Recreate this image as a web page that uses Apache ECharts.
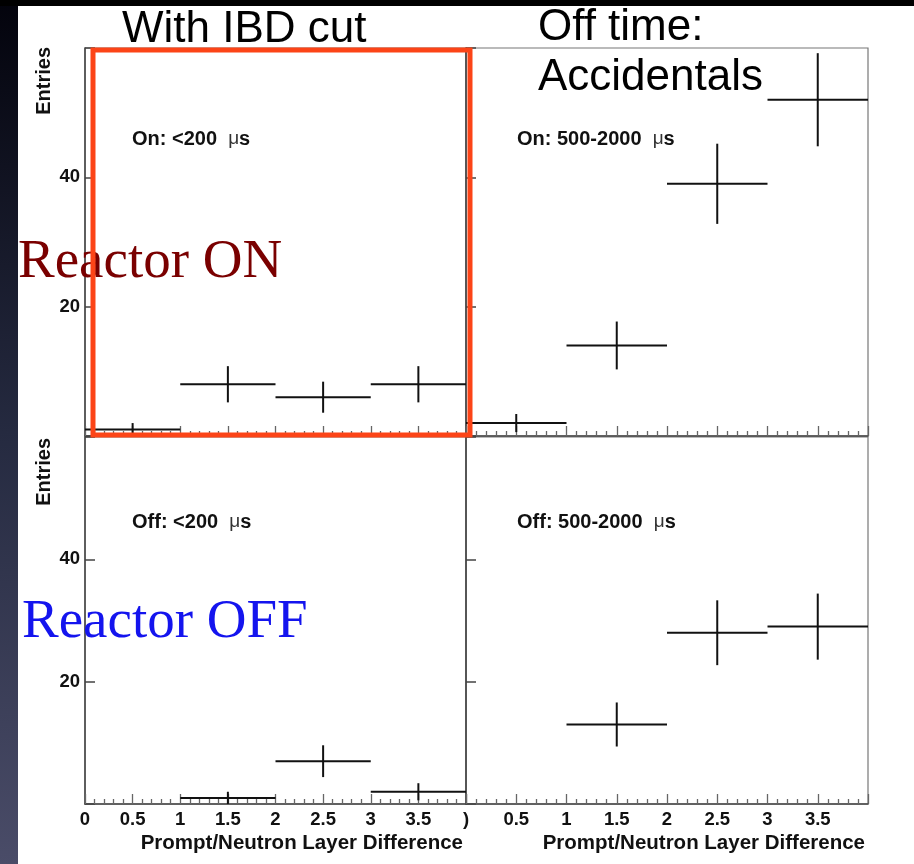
<!DOCTYPE html>
<html>
<head>
<meta charset="utf-8">
<script src="https://cdn.jsdelivr.net/npm/echarts@6/dist/echarts.min.js"></script>
<style>
  html, body { margin: 0; padding: 0; background: #fff; }
  #chart { width: 914px; height: 864px; }
</style>
</head>
<body>
<div id="chart"></div>
<script>
// ---- data ----
const binCenters = [0.5, 1.5, 2.5, 3.5];
const binWidth = 1;

const onPromptCounts   = [1, 8, 6, 8];
const onPromptErrors   = [1, 2.8, 2.4, 2.8];
const onDelayedCounts  = [2, 14, 39, 52];
const onDelayedErrors  = [1.4, 3.7, 6.2, 7.2];
const offPromptCounts  = [0, 1, 7, 2];
const offPromptErrors  = [0, 1, 2.6, 1.4];
const offDelayedCounts = [0, 13, 28, 29];
const offDelayedErrors = [0, 3.6, 5.3, 5.4];

const xTickLabelsLeft  = ['0', '0.5', '1', '1.5', '2', '2.5', '3', '3.5', ')'];
const xTickLabelsRight = ['', '0.5', '1', '1.5', '2', '2.5', '3', '3.5', ''];
const yTickLabels      = ['', '20', '40', ''];

const panelLabels = ['On: <200  ', 'On: 500-2000  ', 'Off: <200  ', 'Off: 500-2000  '];
const xAxisTitle = 'Prompt/Neutron Layer Difference';
const yAxisTitle = 'Entries';

// ---- chart ----
const FONT = 'Liberation Sans, Arial, Helvetica, sans-serif';
const chart = echarts.init(document.getElementById('chart'), null, { renderer: 'canvas' });

const grids = [
  { left: 85,  top: 48,  width: 381, height: 388 },
  { left: 466, top: 48,  width: 402, height: 388 },
  { left: 85,  top: 437, width: 381, height: 367 },
  { left: 466, top: 437, width: 402, height: 367 }
].map(g => Object.assign({ show: true, borderColor: '#777', borderWidth: 1.2, backgroundColor: 'transparent' }, g));

function makeXAxis(i, labels) {
  return {
    type: 'value', gridIndex: i, min: 0, max: 4, interval: 0.5,
    axisLine: { show: true, onZero: false, lineStyle: { color: '#444', width: 1.5 } },
    axisTick: { show: true, inside: true, length: 10, lineStyle: { color: '#666', width: 1.3 } },
    minorTick: { show: true, splitNumber: 5, length: 5, lineStyle: { color: '#666', width: 1.3 } },
    splitLine: { show: false },
    axisLabel: labels ? {
      show: true, margin: 6, fontSize: 18.5, fontWeight: 'bold', fontFamily: FONT, color: '#111',
      showMinLabel: true, showMaxLabel: true,
      formatter: v => labels[Math.round(v / 0.5)] || ''
    } : { show: false }
  };
}
function makeYAxis(i, showLabels) {
  return {
    type: 'value', gridIndex: i, min: 0, max: 60, interval: 20,
    axisLine: { show: true, onZero: false, lineStyle: { color: '#444', width: 1.5 } },
    axisTick: { show: true, inside: true, length: 10, lineStyle: { color: '#444', width: 1.5 } },
    splitLine: { show: false },
    axisLabel: showLabels ? {
      show: true, margin: 5, fontSize: 18.5, fontWeight: 'bold', fontFamily: FONT, color: '#111',
      formatter: v => yTickLabels[Math.round(v / 20)] || ''
    } : { show: false }
  };
}

function errorSeries(i, counts, errs) {
  return {
    type: 'custom', xAxisIndex: i, yAxisIndex: i, clip: true,
    data: binCenters.map((c, k) => [c, counts[k], errs[k]]),
    renderItem: function (params, api) {
      const x = api.value(0), y = api.value(1), e = api.value(2);
      if (y === 0) return null;
      const a = api.coord([x - binWidth / 2, y]);
      const b = api.coord([x + binWidth / 2, y]);
      const c = api.coord([x, y - e]);
      const d = api.coord([x, y + e]);
      const st = { stroke: '#111', lineWidth: 2 };
      return {
        type: 'group',
        children: [
          { type: 'line', shape: { x1: a[0], y1: a[1], x2: b[0], y2: b[1] }, style: st },
          { type: 'line', shape: { x1: c[0], y1: c[1], x2: d[0], y2: d[1] }, style: st }
        ]
      };
    }
  };
}

function panelText(x, y, label) {
  return {
    type: 'text', x: x, y: y, z: 50,
    style: {
      text: '{b|' + label + '}{m|μ}{b|s}',
      verticalAlign: 'middle',
      rich: {
        b: { fontSize: 20, fontWeight: 'bold', fontFamily: FONT, fill: '#111' },
        m: { fontSize: 19, fontWeight: 'normal', fontFamily: FONT, fill: '#333' }
      }
    }
  };
}

const bigFont = '44px ' + FONT;
const serifFont = '55px Liberation Serif, Times New Roman, serif';
const graphics = [
  // page background strips
  { type: 'rect', z: -10, shape: { x: 0, y: 0, width: 18, height: 864 },
    style: { fill: new echarts.graphic.LinearGradient(0, 0, 0, 1, [
      { offset: 0, color: '#03030c' }, { offset: 0.5, color: '#252a40' }, { offset: 1, color: '#4a4c68' }]) } },
  { type: 'rect', z: -9, shape: { x: 0, y: 0, width: 914, height: 6 }, style: { fill: '#000' } },
  // annotations
  { type: 'text', x: 122, y: 30, z: 60, style: { text: 'With IBD cut', font: bigFont, fill: '#000', verticalAlign: 'middle' } },
  { type: 'text', x: 538, y: 28, z: 60, style: { text: 'Off time:', font: bigFont, fill: '#000', verticalAlign: 'middle' } },
  { type: 'text', x: 538, y: 78, z: 60, style: { text: 'Accidentals', font: bigFont, fill: '#000', verticalAlign: 'middle' } },
  { type: 'text', x: 18, y: 263, z: 60, style: { text: 'Reactor ON', font: serifFont, fill: '#7a0000', verticalAlign: 'middle' } },
  { type: 'text', x: 22, y: 623, z: 60, style: { text: 'Reactor OFF', font: serifFont, fill: '#1414ee', verticalAlign: 'middle' } },
  panelText(132, 139, panelLabels[0]),
  panelText(517, 139, panelLabels[1]),
  panelText(132, 522, panelLabels[2]),
  panelText(517, 522, panelLabels[3]),
  // axis titles
  { type: 'text', x: 44, y: 47, rotation: Math.PI / 2, z: 50,
    style: { text: yAxisTitle, font: 'bold 20px ' + FONT, fill: '#111', align: 'right', verticalAlign: 'middle' } },
  { type: 'text', x: 44, y: 438, rotation: Math.PI / 2, z: 50,
    style: { text: yAxisTitle, font: 'bold 20px ' + FONT, fill: '#111', align: 'right', verticalAlign: 'middle' } },
  { type: 'text', x: 463, y: 843, z: 50,
    style: { text: xAxisTitle, font: 'bold 20.5px ' + FONT, fill: '#111', align: 'right', verticalAlign: 'middle' } },
  { type: 'text', x: 865, y: 843, z: 50,
    style: { text: xAxisTitle, font: 'bold 20.5px ' + FONT, fill: '#111', align: 'right', verticalAlign: 'middle' } },
  // highlight box
  { type: 'rect', z: 100, shape: { x: 93, y: 50, width: 377, height: 385 },
    style: { fill: 'none', stroke: '#fc4417', lineWidth: 5 } }
];

chart.setOption({
  backgroundColor: '#ffffff',
  animation: false,
  grid: grids,
  xAxis: [makeXAxis(0, null), makeXAxis(1, null), makeXAxis(2, xTickLabelsLeft), makeXAxis(3, xTickLabelsRight)],
  yAxis: [makeYAxis(0, true), makeYAxis(1, false), makeYAxis(2, true), makeYAxis(3, false)],
  series: [
    errorSeries(0, onPromptCounts, onPromptErrors),
    errorSeries(1, onDelayedCounts, onDelayedErrors),
    errorSeries(2, offPromptCounts, offPromptErrors),
    errorSeries(3, offDelayedCounts, offDelayedErrors)
  ],
  graphic: graphics
});
</script>
</body>
</html>
